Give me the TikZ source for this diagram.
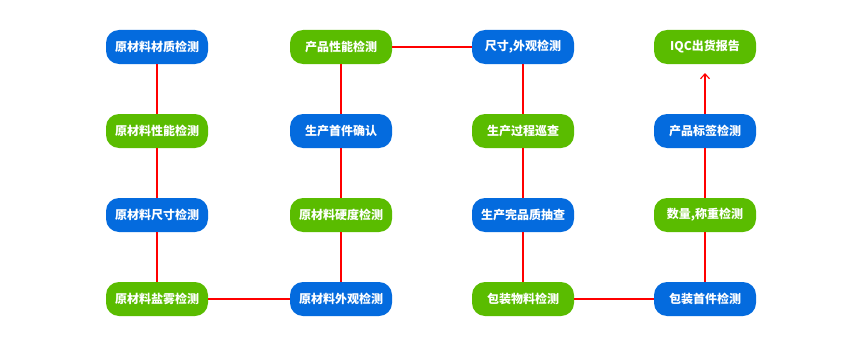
\documentclass[tikz,border=0pt]{standalone}
\usepackage{fontspec}
\newfontfamily\cjk{Noto Sans CJK SC}
\usetikzlibrary{arrows.meta}
\definecolor{bluebox}{RGB}{4,107,222}
\definecolor{greenbox}{RGB}{90,188,0}
\tikzset{
  box/.style={rounded corners=13pt, minimum width=102pt, minimum height=34pt, inner sep=0pt,
    text=white, font=\cjk\bfseries\fontsize{12}{14}\selectfont},
  bbox/.style={box, fill=bluebox},
  gbox/.style={box, fill=greenbox},
  link/.style={red, line width=1.1pt},
}
\begin{document}
\begin{tikzpicture}[x=1pt,y=-1pt]
\useasboundingbox (0,0) rectangle (861,345);
% column 1
\node[bbox] (a1) at (157,47) {原材料材质检测};
\node[gbox] (a2) at (157,131) {原材料性能检测};
\node[bbox] (a3) at (157,215) {原材料尺寸检测};
\node[gbox] (a4) at (157,299) {原材料盐雾检测};
% column 2
\node[gbox] (b1) at (341,47) {产品性能检测};
\node[bbox] (b2) at (341,131) {生产首件确认};
\node[gbox] (b3) at (341,215) {原材料硬度检测};
\node[bbox] (b4) at (341,299) {原材料外观检测};
% column 3
\node[bbox] (c1) at (523,47) {尺寸,外观检测};
\node[gbox] (c2) at (523,131) {生产过程巡查};
\node[bbox] (c3) at (523,215) {生产完品质抽查};
\node[gbox] (c4) at (523,299) {包装物料检测};
% column 4
\node[gbox] (d1) at (705,47) {IQC出货报告};
\node[bbox] (d2) at (705,131) {产品标签检测};
\node[gbox] (d3) at (705,215) {数量,称重检测};
\node[bbox] (d4) at (705,299) {包装首件检测};
\coordinate (tip) at (705,73);
% connectors
\draw[link] (a1) -- (a2);
\draw[link] (a2) -- (a3);
\draw[link] (a3) -- (a4);
\draw[link] (a4) -- (b4);
\draw[link] (b4) -- (b3);
\draw[link] (b3) -- (b2);
\draw[link] (b2) -- (b1);
\draw[link] (b1) -- (c1);
\draw[link] (c1) -- (c2);
\draw[link] (c2) -- (c3);
\draw[link] (c3) -- (c4);
\draw[link] (c4) -- (d4);
\draw[link] (d4) -- (d3);
\draw[link] (d3) -- (d2);
\draw[link, -{Straight Barb[length=5pt,width=9pt]}] (d2) -- (tip);
\end{tikzpicture}
\end{document}
